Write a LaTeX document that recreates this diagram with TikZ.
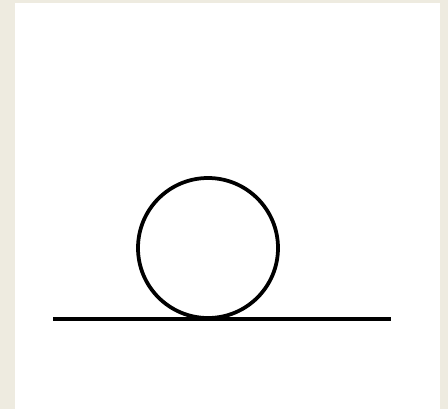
\documentclass[tikz,border=0pt]{standalone}
\usepackage{tikz}
\usetikzlibrary{positioning}
\definecolor{paper}{HTML}{EEEBE0}
\begin{document}
\begin{tikzpicture}[
    x=0.03cm, y=-0.03cm,
    ink/.style={draw=black, line width=3.2pt},
    ]
% Background and white sheet
\fill[paper] (0,0) rectangle (448,409);
\fill[white] (15,3) rectangle (440,409);

% Loop resting on the line
\node[ink, circle, minimum size=4.2cm, inner sep=0pt] (loop) at (208,248) {};
\coordinate (base west) at (53,319);
\coordinate (base east) at (391,319);
\draw[ink] (base west) -- (base east);

\end{tikzpicture}
\end{document}
